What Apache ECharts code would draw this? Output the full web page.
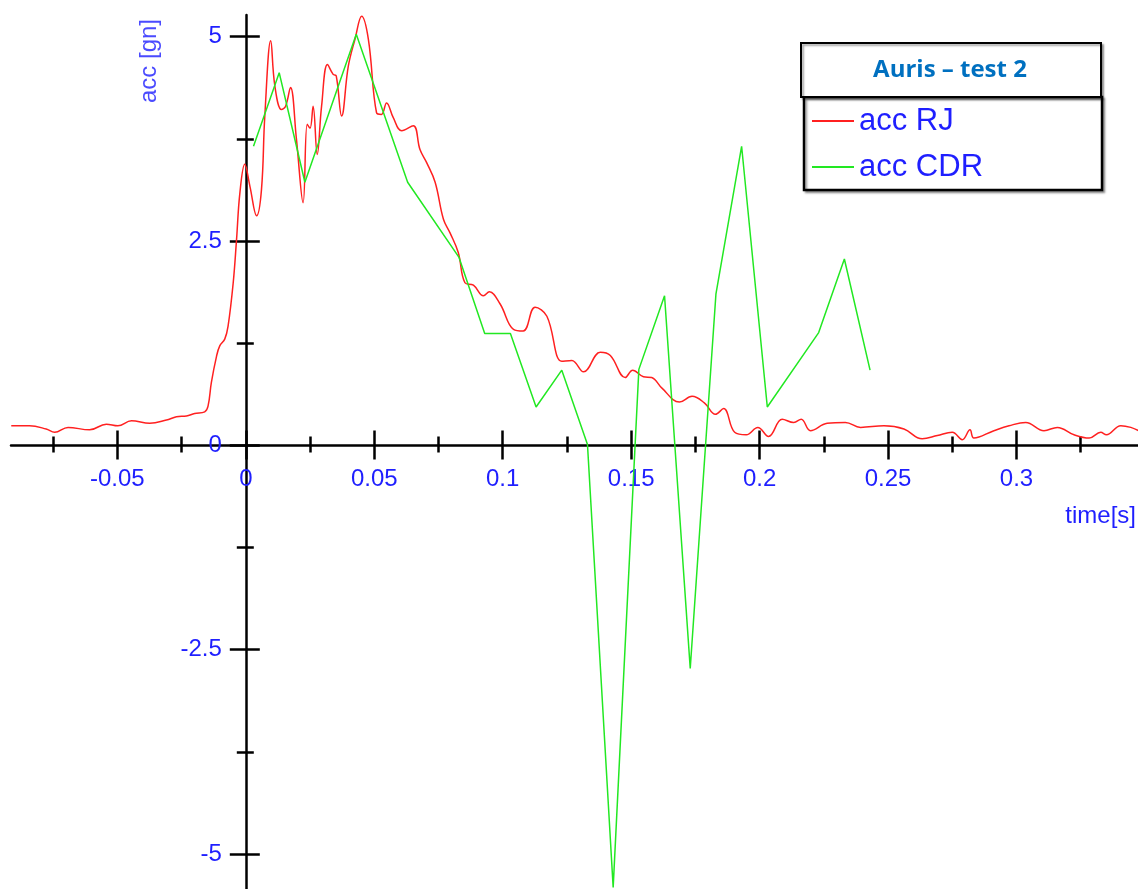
<!DOCTYPE html>
<html>
<head>
<meta charset="utf-8">
<title>Auris – test 2</title>
<script src="https://cdn.jsdelivr.net/npm/echarts@6/dist/echarts.min.js"></script>
<style>
  html, body { margin: 0; padding: 0; background: #fff; }
  #chart { width: 1138px; height: 889px; }
</style>
</head>
<body>
<div id="chart"></div>
<script>
// Acceleration trace from the reference sensor (RJ), time in s, acceleration in gn
const rjTime = [
  -0.0913, -0.0842, -0.0777, -0.0744, -0.0692, -0.0608, -0.0543, -0.0498, -0.0445, -0.0374,
  -0.0309, -0.0270, -0.0231, -0.0199, -0.0160, -0.0147, -0.0134, -0.0114, -0.0101, -0.0082,
  -0.0069, -0.0049, -0.0036, -0.0023, -0.0004, 0.0016, 0.0042, 0.0061, 0.0074, 0.0097,
  0.0113, 0.0139, 0.0155, 0.0174, 0.0197, 0.0223, 0.0239, 0.0250, 0.0262, 0.0278,
  0.0295, 0.0318, 0.0340, 0.0352, 0.0373, 0.0399, 0.0425, 0.0451, 0.0477, 0.0509,
  0.0528, 0.0548, 0.0574, 0.0607, 0.0652, 0.0678, 0.0704, 0.0737, 0.0769, 0.0795,
  0.0827, 0.0853, 0.0886, 0.0925, 0.0948, 0.0990, 0.1042, 0.1080, 0.1126, 0.1172,
  0.1230, 0.1269, 0.1315, 0.1380, 0.1419, 0.1477, 0.1506, 0.1548, 0.1580, 0.1620,
  0.1688, 0.1737, 0.1785, 0.1828, 0.1860, 0.1903, 0.1948, 0.1993, 0.2035, 0.2088,
  0.2133, 0.2162, 0.2198, 0.2263, 0.2334, 0.2393, 0.2484, 0.2562, 0.2633, 0.2692,
  0.2750, 0.2789, 0.2819, 0.2834, 0.2912, 0.2971, 0.3036, 0.3107, 0.3159, 0.3224,
  0.3283, 0.3328, 0.3350, 0.3406, 0.3445, 0.3475
];
const rjAcc = [
  0.24, 0.24, 0.20, 0.16, 0.22, 0.19, 0.26, 0.24, 0.30, 0.27,
  0.31, 0.35, 0.36, 0.39, 0.41, 0.48, 0.77, 1.09, 1.22, 1.30,
  1.46, 1.99, 2.52, 3.09, 3.44, 3.17, 2.81, 3.13, 4.03, 4.95,
  4.40, 4.11, 4.15, 4.38, 3.75, 2.97, 3.93, 3.88, 4.15, 3.56,
  4.15, 4.66, 4.54, 4.52, 4.03, 4.64, 4.97, 5.25, 4.97, 4.07,
  4.05, 4.19, 4.01, 3.85, 3.91, 3.62, 3.46, 3.22, 2.77, 2.60,
  2.36, 1.99, 1.96, 1.83, 1.88, 1.73, 1.42, 1.40, 1.69, 1.58,
  1.03, 1.04, 0.90, 1.14, 1.10, 0.83, 0.92, 0.84, 0.83, 0.70,
  0.53, 0.60, 0.52, 0.38, 0.45, 0.16, 0.13, 0.22, 0.11, 0.32,
  0.28, 0.32, 0.18, 0.27, 0.28, 0.22, 0.24, 0.20, 0.08, 0.12,
  0.16, 0.07, 0.19, 0.09, 0.18, 0.24, 0.28, 0.18, 0.22, 0.13,
  0.09, 0.16, 0.13, 0.24, 0.22, 0.18
];

// Acceleration recorded by the CDR unit
const cdrTime = [
  0.003, 0.013, 0.023, 0.043, 0.063, 0.083, 0.093, 0.103, 0.113, 0.123,
  0.133, 0.143, 0.153, 0.163, 0.173, 0.183, 0.193, 0.203, 0.223, 0.233, 0.243
];
const cdrAcc = [
  3.66, 4.56, 3.22, 5.03, 3.22, 2.30, 1.37, 1.37, 0.47, 0.92,
  0.01, -5.41, 0.93, 1.83, -2.73, 1.85, 3.66, 0.47, 1.38, 2.28, 0.92
];

// Axis tick positions
const xMajorTicks = [-0.05, 0, 0.05, 0.1, 0.15, 0.2, 0.25, 0.3];
const xMinorTicks = [-0.075, -0.025, 0.025, 0.075, 0.125, 0.175, 0.225, 0.275, 0.325];
const yMajorTicks = [-5, -2.5, 0, 2.5, 5];
const yMinorTicks = [-3.75, -1.25, 1.25, 3.75];

const seriesNames = ['acc RJ', 'acc CDR'];
const titleText = 'Auris – test 2';
const xAxisName = 'time[s]';
const yAxisName = 'acc [gn]';

const X_MIN = -0.0914, X_MAX = 0.3473;
const Y_MIN = -5.428, Y_MAX = 5.266;

// Plot area
const W = 1138, H = 889;
const GRID = { left: 11, right: 0, top: 15, bottom: 0 };
const gridW = W - GRID.left - GRID.right;
const gridH = H - GRID.top - GRID.bottom;

// The axes cross at (0, 0): shift each axis from its grid edge to the zero line of the other one
const xAxisShift = -((0 - Y_MIN) / (Y_MAX - Y_MIN)) * gridH;
const yAxisShift = -((0 - X_MIN) / (X_MAX - X_MIN)) * gridW;

const LABEL_BLUE = '#1f1fff';
const FONT = '"Liberation Sans", Arial, sans-serif';

// One axis layer draws ticks on one side of the line; two layers per tick size give ticks crossing the axis
function xLayer(ticks, len, inside, main) {
  return {
    type: 'value', min: X_MIN, max: X_MAX, position: 'bottom', offset: xAxisShift,
    axisLine: { show: main, onZero: false, lineStyle: { color: '#000', width: 2.5 } },
    axisTick: { show: true, inside: inside, length: len, customValues: ticks, lineStyle: { color: '#000', width: 2.5 } },
    axisLabel: {
      show: main, customValues: ticks, margin: 22, color: LABEL_BLUE,
      fontSize: 24, fontFamily: FONT
    },
    splitLine: { show: false }
  };
}
function yLayer(ticks, len, inside, main) {
  return {
    type: 'value', min: Y_MIN, max: Y_MAX, position: 'left', offset: yAxisShift,
    axisLine: { show: main, onZero: false, lineStyle: { color: '#000', width: 2.5 } },
    axisTick: { show: true, inside: inside, length: len, customValues: ticks, lineStyle: { color: '#000', width: 2.5 } },
    axisLabel: {
      show: main, customValues: ticks, margin: 24, color: LABEL_BLUE,
      fontSize: 24, fontFamily: FONT
    },
    splitLine: { show: false }
  };
}

const chart = echarts.init(document.getElementById('chart'), null, { renderer: 'canvas' });

chart.setOption({
  animation: false,
  backgroundColor: '#fff',
  grid: Object.assign({ containLabel: false, outerBoundsMode: 'none' }, GRID),
  xAxis: [
    xLayer(xMajorTicks, 14, false, true),
    xLayer(xMajorTicks, 15, true, false),
    xLayer(xMinorTicks, 7, false, false),
    xLayer(xMinorTicks, 9, true, false)
  ],
  yAxis: [
    yLayer(yMajorTicks, 16, false, true),
    yLayer(yMajorTicks, 14, true, false),
    yLayer(yMinorTicks, 9, false, false),
    yLayer(yMinorTicks, 8, true, false)
  ],
  legend: {
    orient: 'vertical',
    left: 804, top: 97,
    data: seriesNames,
    icon: 'rect',
    itemWidth: 42, itemHeight: 2, itemGap: 12,
    padding: [7, 119, 6, 8],
    backgroundColor: '#fff',
    borderColor: '#000', borderWidth: 2.5, borderRadius: 0,
    shadowColor: 'rgba(0,0,0,0.35)', shadowBlur: 2, shadowOffsetX: 2, shadowOffsetY: 2,
    textStyle: { color: LABEL_BLUE, fontSize: 31, lineHeight: 34, fontFamily: FONT },
    selectedMode: false
  },
  graphic: [
    {
      type: 'rect', left: 800, top: 42, z: 100,
      shape: { width: 300, height: 54 },
      style: {
        fill: '#fff', stroke: '#000', lineWidth: 2,
        shadowColor: 'rgba(0,0,0,0.35)', shadowBlur: 2, shadowOffsetX: 2, shadowOffsetY: 2
      }
    },
    {
      type: 'text', x: 950, y: 70, z: 101,
      style: {
        text: titleText, align: 'center', verticalAlign: 'middle',
        fill: '#0070c0', font: 'bold 24px "Open Sans", sans-serif'
      }
    },
    {
      type: 'text', x: 149, y: 61, rotation: Math.PI / 2, z: 100,
      style: {
        text: yAxisName, align: 'center', verticalAlign: 'middle',
        fill: '#4b4bff', font: '24px "Liberation Sans", Arial, sans-serif'
      }
    },
    {
      type: 'text', x: 1136, y: 516, z: 100,
      style: {
        text: xAxisName, align: 'right', verticalAlign: 'middle',
        fill: LABEL_BLUE, font: '24px "Liberation Sans", Arial, sans-serif'
      }
    }
  ],
  series: [
    {
      name: seriesNames[0], type: 'line',
      data: rjTime.map((t, i) => [t, rjAcc[i]]),
      symbol: 'none', smooth: 0.4,
      lineStyle: { color: '#ff2020', width: 1.5 },
      itemStyle: { color: '#ff2020' }
    },
    {
      name: seriesNames[1], type: 'line',
      data: cdrTime.map((t, i) => [t, cdrAcc[i]]),
      symbol: 'none',
      lineStyle: { color: '#22e822', width: 1.5 },
      itemStyle: { color: '#22e822' }
    }
  ]
});
</script>
</body>
</html>
